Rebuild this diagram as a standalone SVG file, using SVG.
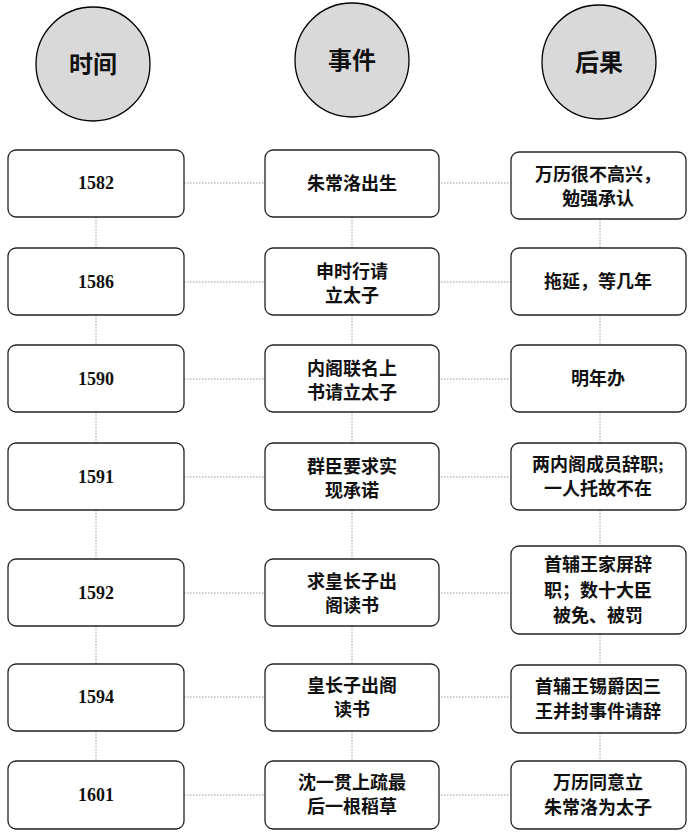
<svg xmlns="http://www.w3.org/2000/svg" width="700" height="837" viewBox="0 0 700 837">
<style>
.c{fill:#d9d9d9;stroke:#000;stroke-width:1.3}
.b{fill:#fff;stroke:#222;stroke-width:1.3}
.t{font-family:"Liberation Serif","Noto Sans CJK SC",serif;font-weight:bold;font-size:18px;text-anchor:middle;fill:#111}
.h{font-size:24px}
.l{stroke:#999;stroke-width:1;stroke-dasharray:1.5 1.5;fill:none}
</style>
<rect width="700" height="837" fill="#fff"/>
<g id="connectors">
<path class="l" d="M96 217V248M96 315V345M96 412V443M96 510V559M96 626V664M96 731V761"/>
<path class="l" d="M352 217V248M352 315V345M352 412V443M352 510V559M352 626V664M352 731V761"/>
<path class="l" d="M600 219V248M600 315V345M600 412V443M600 510V546M600 634V665M600 733V761"/>
<path class="l" d="M184 183H265M438 183H511M184 282H265M438 282H511M184 379H265M438 379H511M184 477H265M438 477H511M184 593H265M438 593H511M184 697H265M438 697H511M184 795H265M438 795H511"/>
</g>
<g id="h1"><ellipse class="c" cx="93" cy="64" rx="57" ry="57"/><text class="t h" x="93" y="73">时间</text></g>
<g id="h2"><ellipse class="c" cx="352" cy="60" rx="57" ry="57"/><text class="t h" x="352" y="69">事件</text></g>
<g id="h3"><ellipse class="c" cx="599" cy="62" rx="57" ry="57"/><text class="t h" x="599" y="71">后果</text></g>
<g id="y1"><rect class="b" x="8" y="150" width="176" height="67" rx="8"/><text class="t" x="96" y="189">1582</text></g>
<g id="y2"><rect class="b" x="8" y="248" width="176" height="67" rx="8"/><text class="t" x="96" y="288">1586</text></g>
<g id="y3"><rect class="b" x="8" y="345" width="176" height="67" rx="8"/><text class="t" x="96" y="385">1590</text></g>
<g id="y4"><rect class="b" x="8" y="443" width="176" height="67" rx="8"/><text class="t" x="96" y="483">1591</text></g>
<g id="y5"><rect class="b" x="8" y="559" width="176" height="67" rx="8"/><text class="t" x="96" y="599">1592</text></g>
<g id="y6"><rect class="b" x="8" y="664" width="176" height="67" rx="8"/><text class="t" x="96" y="703">1594</text></g>
<g id="y7"><rect class="b" x="8" y="761" width="176" height="68" rx="8"/><text class="t" x="96" y="801">1601</text></g>
<g id="e1"><rect class="b" x="265" y="150" width="174" height="67" rx="8"/><text class="t" x="352" y="190">朱常洛出生</text></g>
<g id="e2"><rect class="b" x="265" y="248" width="174" height="67" rx="8"/><text class="t" x="352" y="278">申时行请</text><text class="t" x="352" y="302">立太子</text></g>
<g id="e3"><rect class="b" x="265" y="345" width="174" height="67" rx="8"/><text class="t" x="352" y="375">内阁联名上</text><text class="t" x="352" y="399">书请立太子</text></g>
<g id="e4"><rect class="b" x="265" y="443" width="174" height="67" rx="8"/><text class="t" x="352" y="473">群臣要求实</text><text class="t" x="352" y="497">现承诺</text></g>
<g id="e5"><rect class="b" x="265" y="559" width="174" height="67" rx="8"/><text class="t" x="352" y="588">求皇长子出</text><text class="t" x="352" y="612">阁读书</text></g>
<g id="e6"><rect class="b" x="265" y="664" width="174" height="67" rx="8"/><text class="t" x="352" y="692">皇长子出阁</text><text class="t" x="352" y="716">读书</text></g>
<g id="e7"><rect class="b" x="265" y="761" width="174" height="68" rx="8"/><text class="t" x="352" y="789">沈一贯上疏最</text><text class="t" x="352" y="813">后一根稻草</text></g>
<g id="r1"><rect class="b" x="511" y="152" width="175" height="67" rx="8"/><text class="t" x="598" y="181">万历很不高兴，</text><text class="t" x="598" y="205">勉强承认</text></g>
<g id="r2"><rect class="b" x="511" y="248" width="175" height="67" rx="8"/><text class="t" x="598" y="288">拖延，等几年</text></g>
<g id="r3"><rect class="b" x="511" y="345" width="175" height="67" rx="8"/><text class="t" x="598" y="385">明年办</text></g>
<g id="r4"><rect class="b" x="511" y="443" width="175" height="67" rx="8"/><text class="t" x="598" y="471">两内阁成员辞职;</text><text class="t" x="598" y="495">一人托故不在</text></g>
<g id="r5"><rect class="b" x="511" y="546" width="175" height="88" rx="8"/><text class="t" x="598" y="571">首辅王家屏辞</text><text class="t" x="598" y="597">职；数十大臣</text><text class="t" x="598" y="622">被免、被罚</text></g>
<g id="r6"><rect class="b" x="511" y="665" width="175" height="68" rx="8"/><text class="t" x="598" y="693">首辅王锡爵因三</text><text class="t" x="598" y="718">王并封事件请辞</text></g>
<g id="r7"><rect class="b" x="511" y="761" width="175" height="68" rx="8"/><text class="t" x="598" y="789">万历同意立</text><text class="t" x="598" y="814">朱常洛为太子</text></g>
</svg>
